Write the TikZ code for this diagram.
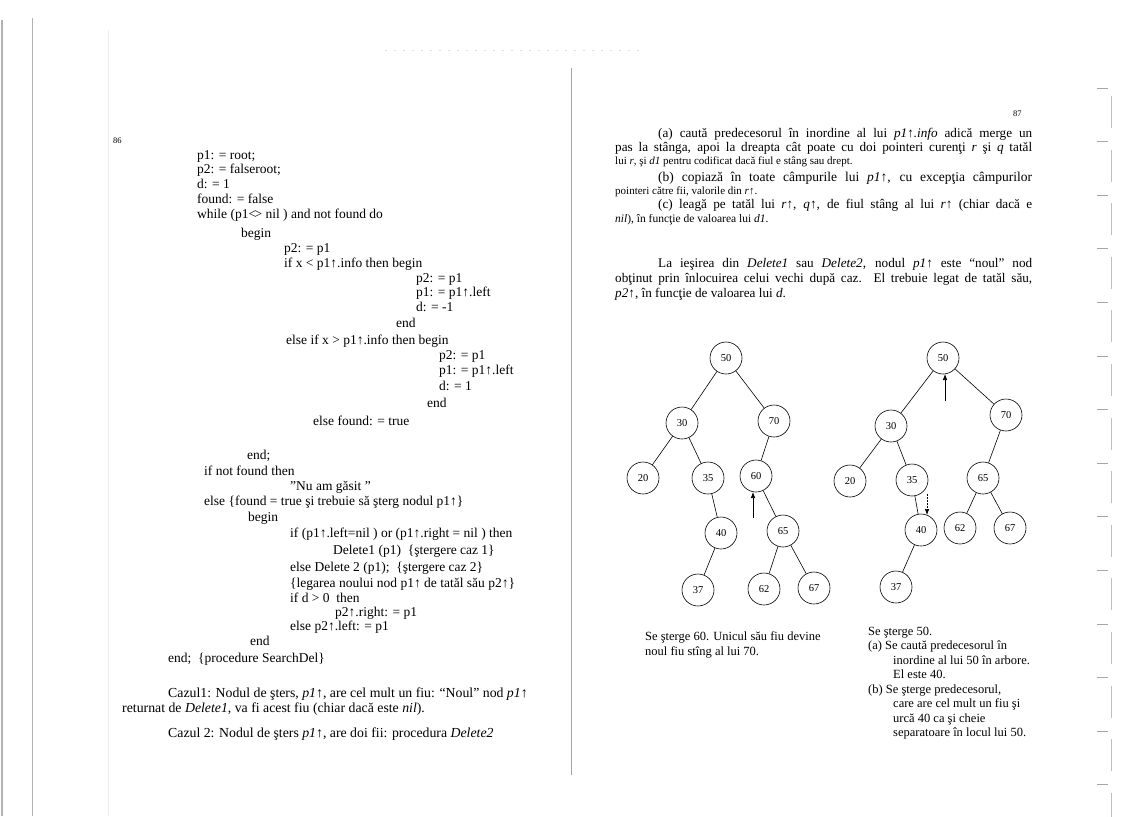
\documentclass[tikz,border=0pt]{standalone}
\usepackage{fontspec}
\setmainfont{Liberation Serif}
\usetikzlibrary{arrows.meta}
\tikzset{
  code/.style={anchor=base west, inner sep=0pt, font=\fontsize{13.5}{15}\selectfont},
  para/.style={anchor=base west, inner sep=0pt, font=\fontsize{13.2}{14}\selectfont},
  lpara/.style={anchor=base west, inner sep=0pt, font=\fontsize{13.8}{15}\selectfont},
  capt/.style={anchor=base west, inner sep=0pt, font=\fontsize{12.5}{14}\selectfont},
  pnum/.style={anchor=base west, inner sep=0pt, font=\fontsize{8.5}{10}\selectfont},
  tnode/.style={circle, draw, line width=0.6pt, minimum size=32pt, inner sep=0pt, font=\fontsize{10.5}{12}\selectfont},
  edge/.style={line width=0.6pt},
  arr/.style={line width=0.6pt, -{Latex[length=6pt,width=4.5pt]}},
  darr/.style={line width=0.6pt, dash pattern=on 1.5pt off 1.5pt, -{Latex[length=6pt,width=4.5pt]}},
  scan/.style={gray!60, line width=0.8pt}
}
\begin{document}
\begin{tikzpicture}[x=1pt,y=-1pt]
\useasboundingbox (0,0) rectangle (1123,816);
\fill[white] (0,0) rectangle (1123,816);

% scan artefacts: edges, gutter
\draw[scan, line width=1.2pt] (2,20) -- (2,816);
\draw[scan] (32,18) -- (32,816);
\draw[gray!15, line width=0.6pt] (108,30) -- (108,816);
\draw[gray!70, line width=1pt] (571,68) -- (571,775);
\draw[gray!25, dash pattern=on 2pt off 7pt] (385,50) -- (640,50);
\foreach \k in {0,...,13}{
  \draw[gray!70, line width=0.7pt] (1097,88+53.6*\k) -- (1108,88+53.6*\k);
  \draw[gray!50, line width=0.6pt] (1111,96+53.6*\k) -- (1111,128+53.6*\k);
}

% ---------------- left page ----------------
\node[pnum] (pg86) at (113,143) {86};
\node[code] (c1) at (197,159) {p1: = root;};
\node[code] (c2) at (197,173) {p2: = falseroot;};
\node[code] (c3) at (197,188) {d: = 1};
\node[code] (c4) at (197,203) {found: = false};
\node[code] (c5) at (197,218) {while (p1<\kern-.12em> nil ) and not found do};
\node[code] (c6) at (241,237) {begin};
\node[code] (c7) at (284,252) {p2: = p1};
\node[code] (c8) at (284,267) {if x < p1↑.info then begin};
\node[code] (c9) at (416,282) {p2: = p1};
\node[code] (c10) at (416,296) {p1: = p1↑.left};
\node[code] (c11) at (416,311) {d: = -1};
\node[code] (c12) at (396,327) {end};
\node[code] (c13) at (286,344) {else if x > p1↑.info then begin};
\node[code] (c14) at (439,359) {p2: = p1};
\node[code] (c15) at (439,374) {p1: = p1↑.left};
\node[code] (c16) at (439,390) {d: = 1};
\node[code] (c17) at (427,407) {end};
\node[code] (c18) at (313,425) {else found: = true};
\node[code] (c19) at (247,459) {end;};
\node[code] (c20) at (204,475) {if not found then};
\node[code] (c21) at (290,490) {"Nu am găsit "};
\node[code] (c22) at (204,505) {else \{found = true şi trebuie să şterg nodul p1↑\}};
\node[code] (c23) at (248,521) {begin};
\node[code] (c24) at (290,537) {if (p1↑.left=nil ) or (p1↑.right = nil ) then};
\node[code] (c25) at (333,554) {Delete1 (p1)\ \ \{ştergere caz 1\}};
\node[code] (c26) at (290,571) {else Delete 2 (p1);\ \ \{ştergere caz 2\}};
\node[code] (c27) at (290,587) {\{legarea noului nod p1↑ de tatăl său p2↑\}};
\node[code] (c28) at (290,602) {if d > 0\ \ then};
\node[code] (c29) at (335,616) {p2↑.right: = p1};
\node[code] (c30) at (290,630) {else p2↑.left: = p1};
\node[code] (c31) at (250,645) {end};
\node[code] (c32) at (168,662) {end;\ \ \{procedure SearchDel\}};

\node[lpara] (l1) at (168,697) {Cazul1: Nodul de şters, \textit{p1}↑, are cel mult un fiu: “Noul” nod \textit{p1}↑};
\node[lpara] (l2) at (122,712) {returnat de \textit{Delete1}, va fi acest fiu (chiar dacă este \textit{nil}).};
\node[lpara] (l3) at (168,737) {Cazul 2: Nodul de şters \textit{p1}↑, are doi fii: procedura \textit{Delete2}};

% ---------------- right page ----------------
\node[pnum] (pg87) at (1013,116) {87};
\node[para] (r1) at (658,137) {\makebox[374pt][s]{(a) caută predecesorul în inordine al lui \textit{p1}↑\textit{.info} adică merge un}};
\node[para] (r2) at (615,151) {\makebox[417pt][s]{pas la stânga, apoi la dreapta cât poate cu doi pointeri curenţi \textit{r} şi \textit{q} tatăl}};
\node[para, font=\fontsize{11}{12}\selectfont] (r3) at (615,164) {lui \textit{r}, şi \textit{d1} pentru codificat dacă fiul e stâng sau drept.};
\node[para, font=\fontsize{13.5}{15}\selectfont] (r4) at (658,181) {\makebox[374pt][s]{(b) copiază în toate câmpurile lui \textit{p1}↑, cu excepţia câmpurilor}};
\node[para, font=\fontsize{11}{12}\selectfont] (r5) at (615,194) {pointeri către fii, valorile din \textit{r}↑.};
\node[para] (r6) at (658,208) {\makebox[374pt][s]{(c) leagă pe tatăl lui \textit{r}↑, \textit{q}↑, de fiul stâng al lui \textit{r}↑ (chiar dacă e}};
\node[para, font=\fontsize{11.5}{13}\selectfont] (r7) at (615,222) {\textit{nil}), în funcţie de valoarea lui \textit{d1}.};
\node[para] (r8) at (658,267) {\makebox[374pt][s]{La ieşirea din \textit{Delete1} sau \textit{Delete2}, nodul \textit{p1}↑ este “noul” nod}};
\node[para] (r9) at (615,282) {\makebox[417pt][s]{obţinut prin înlocuirea celui vechi după caz. El trebuie legat de tatăl său,}};
\node[para] (r10) at (615,297) {\textit{p2}↑, în funcţie de valoarea lui \textit{d}.};

% left tree
\node[tnode] (a50) at (726,358) {50};
\node[tnode] (a30) at (682,423) {30};
\node[tnode] (a70) at (774,421) {70};
\node[tnode] (a20) at (643,478) {20};
\node[tnode] (a35) at (708,478) {35};
\node[tnode] (a60) at (756,476) {60};
\node[tnode] (a40) at (721,533) {40};
\node[tnode] (a65) at (783,531) {65};
\node[tnode] (a37) at (698,590) {37};
\node[tnode] (a62) at (764,589) {62};
\node[tnode] (a67) at (814,588) {67};
\draw[edge] (a50) -- (a30);
\draw[edge] (a50) -- (a70);
\draw[edge] (a30) -- (a20);
\draw[edge] (a30) -- (a35);
\draw[edge] (a35) -- (a40);
\draw[edge] (a40) -- (a37);
\draw[edge] (a70) -- (a60);
\draw[edge] (a60) -- (a65);
\draw[edge] (a65) -- (a62);
\draw[edge] (a65) -- (a67);
\coordinate (ta) at (753,518);
\coordinate (ha) at (753,492);
\draw[arr] (ta) -- (ha);

% right tree
\node[tnode] (b50) at (943,358) {50};
\node[tnode] (b30) at (891,426) {30};
\node[tnode] (b70) at (1006,415) {70};
\node[tnode] (b20) at (850,481) {20};
\node[tnode] (b35) at (912,480) {35};
\node[tnode] (b65) at (983,478) {65};
\node[tnode] (b40) at (921,530) {40};
\node[tnode] (b62) at (960,528) {62};
\node[tnode] (b67) at (1010,528) {67};
\node[tnode] (b37) at (896,587) {37};
\draw[edge] (b50) -- (b30);
\draw[edge] (b50) -- (b70);
\draw[edge] (b30) -- (b20);
\draw[edge] (b30) -- (b35);
\draw[edge] (b35) -- (b40);
\draw[edge] (b40) -- (b37);
\draw[edge] (b70) -- (b65);
\draw[edge] (b65) -- (b62);
\draw[edge] (b65) -- (b67);
\coordinate (tb) at (945,401);
\coordinate (hb) at (945,374);
\draw[arr] (tb) -- (hb);
\coordinate (tc) at (927,494);
\coordinate (hc) at (927,515);
\draw[darr] (tc) -- (hc);

% captions
\node[capt] (s1) at (645,640) {Se şterge 60. Unicul său fiu devine};
\node[capt] (s2) at (645,655) {noul fiu stîng al lui 70.};
\node[capt] (t1) at (868,635) {Se şterge 50.};
\node[capt] (t2) at (868,649) {(a) Se caută predecesorul în};
\node[capt] (t3) at (893,664) {inordine al lui 50 în arbore.};
\node[capt] (t4) at (893,678) {El este 40.};
\node[capt] (t5) at (868,693) {(b) Se şterge predecesorul,};
\node[capt] (t6) at (893,707) {care are cel mult un fiu şi};
\node[capt] (t7) at (893,722) {urcă 40 ca şi cheie};
\node[capt] (t8) at (893,736) {separatoare în locul lui 50.};
\end{tikzpicture}
\end{document}
